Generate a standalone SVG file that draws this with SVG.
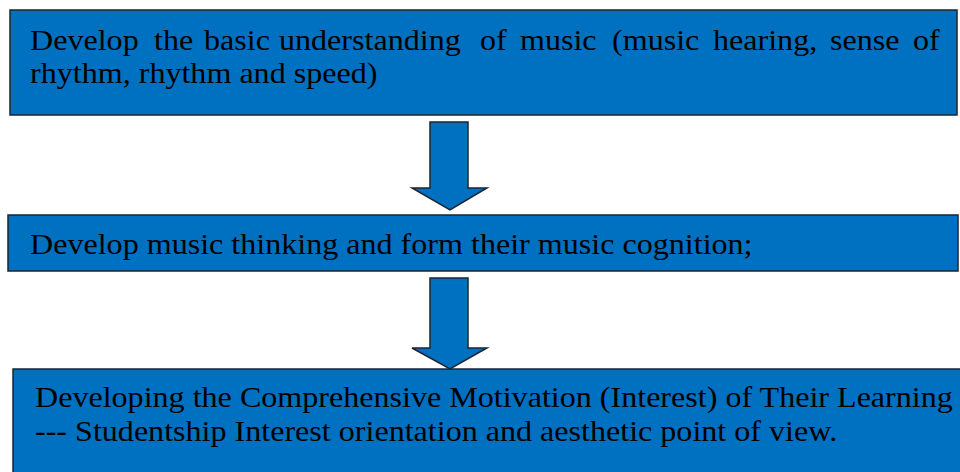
<svg xmlns="http://www.w3.org/2000/svg" width="960" height="472" viewBox="0 0 960 472">
<style>
.box{fill:#0070C0;stroke:#1a2530;stroke-width:1.5}
.arr{fill:#0070C0;stroke:#1a2530;stroke-width:1.5;stroke-linejoin:miter}
.t{font-family:'Liberation Serif','Times New Roman','DejaVu Serif',Times,serif;font-size:30px;fill:#000}
</style>
<rect width="960" height="472" fill="#fff"/>
<g id="node1">
<rect class="box" x="10" y="10" width="947" height="105"/>
<g transform="matrix(1.07 0 0 1 0 0)">
<text class="t" y="50"><tspan x="28.04">Develop</tspan><tspan x="143.93">the</tspan><tspan x="190.65">basic</tspan><tspan x="260.75">understanding</tspan><tspan x="448.6">of</tspan><tspan x="485.98">music</tspan><tspan x="571.96">(music</tspan><tspan x="666.36">hearing,</tspan><tspan x="775.7">sense</tspan><tspan x="853.27">of</tspan></text>
<text class="t" x="28.04" y="83">rhythm, rhythm and speed)</text>
</g>
</g>
<g id="node2">
<rect class="box" x="8" y="215" width="950" height="56"/>
<g transform="matrix(1.07 0 0 1 0 0)">
<text class="t" x="28.04" y="254">Develop music thinking and form their music cognition;</text>
</g>
</g>
<g id="node3">
<rect class="box" x="13" y="369" width="950" height="110"/>
<g transform="matrix(1.07 0 0 1 0 0)">
<text class="t" x="32.71" y="407">Developing the Comprehensive Motivation (Interest) of Their Learning</text>
<text class="t" x="32.71" y="441">--- Studentship Interest orientation and aesthetic point of view.</text>
</g>
</g>
<g id="connectors">
<polygon class="arr" points="430,122 468,122 468,188 487,188 450,210 412,188 430,188"/>
<polygon class="arr" points="430,278 468,278 468,348 487,348 450,369 412,348 430,348"/>
</g>
</svg>
